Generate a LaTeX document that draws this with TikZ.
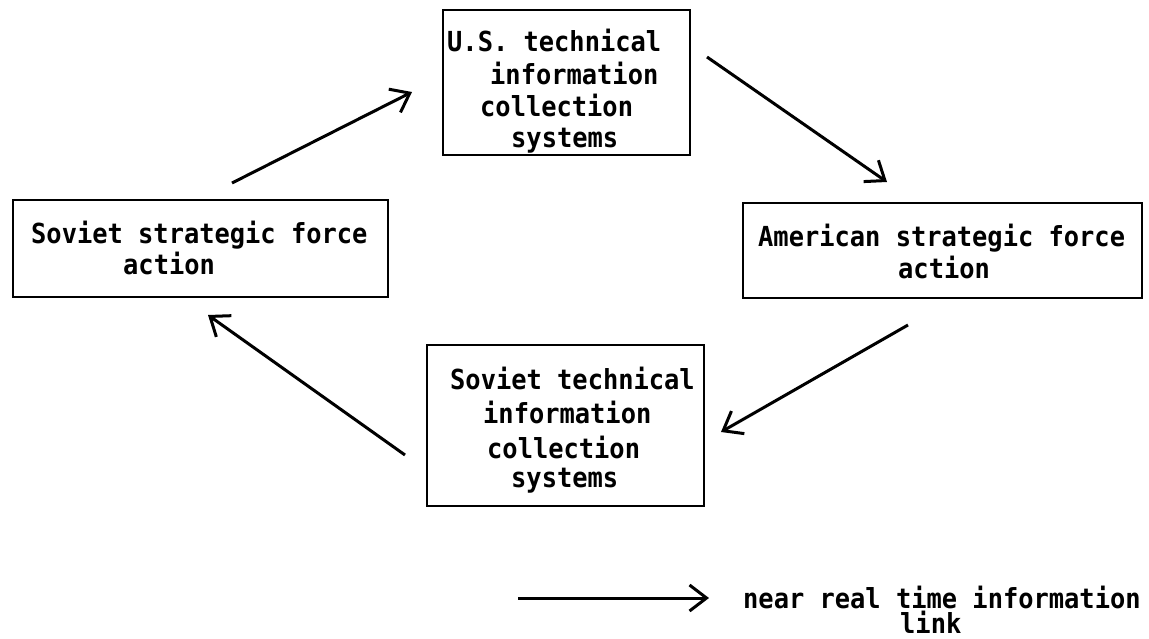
\documentclass[tikz,border=0pt]{standalone}
\usepackage{fontspec}
\newfontfamily\twfont{DejaVu Sans Mono}[FakeStretch=0.92]
\usetikzlibrary{arrows.meta}
\begin{document}
\begin{tikzpicture}[x=1pt,y=-1pt,
  box/.style={draw, line width=2.4pt, inner sep=0pt},
  txt/.style={font=\twfont\bfseries\fontsize{27.6pt}{32pt}\selectfont, inner sep=0pt, anchor=base west},
  link/.style={line width=3pt, -{Straight Barb[length=17pt, width=26pt, line width=3pt]}}
]
\useasboundingbox (0,0) rectangle (1149,638);
% boxes
\node[box, minimum width=247pt, minimum height=145pt] (us)  at (566.5,82.5) {};
\node[box, minimum width=375pt, minimum height=97pt]  (ssf) at (200.5,248.5) {};
\node[box, minimum width=399pt, minimum height=95pt]  (asf) at (942.5,250.5) {};
\node[box, minimum width=277pt, minimum height=161pt] (sov) at (565.5,425.5) {};
% texts
\node[txt] (us1) at (447,51)  {U.S. technical};
\node[txt] (us2) at (490,84)  {information};
\node[txt] (us3) at (480,116) {collection};
\node[txt] (us4) at (511,147) {systems};
\node[txt] (ssf1) at (31,243)  {Soviet strategic force};
\node[txt] (ssf2) at (123,274) {action};
\node[txt] (asf1) at (758,246) {American strategic force};
\node[txt] (asf2) at (898,278) {action};
\node[txt] (sov1) at (450,389) {Soviet technical};
\node[txt] (sov2) at (483,423) {information};
\node[txt] (sov3) at (487,458) {collection};
\node[txt] (sov4) at (511,487) {systems};
\node[txt] (leg1) at (743,608) {near real time information};
\node[txt] (leg2) at (900,633) {link};
% connector end points
\coordinate (a1s) at (232,183);  \coordinate (a1e) at (412,92);
\coordinate (a2s) at (707,57);   \coordinate (a2e) at (887,182);
\coordinate (a3s) at (908,325);  \coordinate (a3e) at (721,432);
\coordinate (a4s) at (405,455);  \coordinate (a4e) at (208,315);
\coordinate (l0) at (518,598);   \coordinate (l1) at (709,598);
\draw[link] (a1s) -- (a1e);
\draw[link] (a2s) -- (a2e);
\draw[link] (a3s) -- (a3e);
\draw[link] (a4s) -- (a4e);
\draw[link] (l0) -- (l1);
\end{tikzpicture}
\end{document}
